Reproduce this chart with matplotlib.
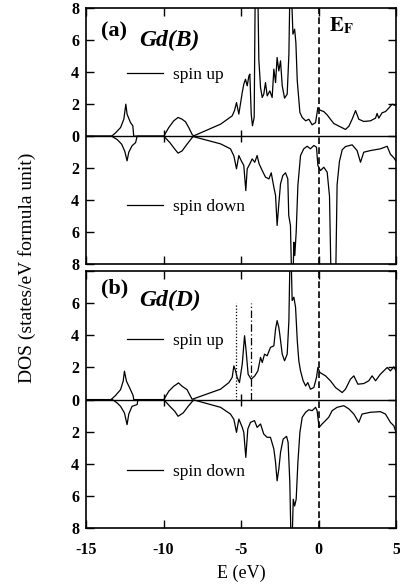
import numpy as np
import matplotlib; matplotlib.use("Agg")
import matplotlib.pyplot as plt

# ---- data: energy (eV), DOS magnitude (states/eV f.u.) ----
# panel (a) Gd(B)
E_up_a = [-15.0, -13.35, -13.1, -12.77, -12.56, -12.43, -12.35, -12.13, -11.98, -11.92,
          -9.98, -9.66, -9.34, -9.06, -8.8, -8.58, -8.37, -8.15, -8.05, -6.32,
          -5.57, -5.42, -5.29, -5.14, -4.92, -4.82, -4.71, -4.6, -4.49, -4.43,
          -4.34, -4.26, -4.15, -4.08, -3.92, -3.85, -3.74, -3.63, -3.53, -3.42,
          -3.31, -3.14, -2.99, -2.88, -2.77, -2.67, -2.56, -2.45, -2.34, -2.19,
          -2.02, -1.91, -1.84, -1.76, -1.65, -1.54, -1.46, -1.37, -1.2, -1.05,
          -0.83, -0.62, -0.41, -0.19, -0.04, 0.09, 0.34, 0.56, 0.77, 0.99,
          1.42, 1.74, 1.96, 2.17, 2.39, 2.6, 2.92, 3.35, 3.68, 3.78,
          3.89, 4.1, 4.32, 4.53, 4.75, 5.0]
D_up_a = [0, 0, 0.2, 0.54, 1.06, 2.0, 1.38, 0.85, 0.65, 0,
          0, 0.54, 0.96, 1.17, 1.06, 0.9, 0.54, 0.1, 0.02, 0.75,
          1.27, 1.6, 2.1, 1.38, 2.73, 3.25, 3.56, 3.15, 3.77, 3.88,
          1.38, 0.65, 1.17, 9.5, 9.5, 4.81, 3.04, 2.42, 2.63, 3.35,
          2.52, 2.83, 2.42, 4.19, 3.35, 4.92, 4.08, 4.71, 3.15, 2.38,
          2.63, 5.13, 9.5, 9.5, 6.38, 6.69, 5.85, 3.46, 1.48, 1.17,
          0.96, 1.06, 0.71, 0.85, 1.79, 1.63, 1.54, 1.33, 1.06, 0.79,
          0.58, 0.42, 0.62, 1.06, 1.6, 1.06, 0.92, 0.96, 1.13, 1.42,
          1.13, 1.46, 1.54, 1.75, 2.0, 1.9]
E_dn_a = [-15.0, -13.35, -13.0, -12.7, -12.5, -12.35, -12.24, -12.03, -11.8, -11.7,
          -9.98, -9.59, -9.27, -9.06, -8.8, -8.48, -8.2, -8.1, -6.32, -5.68,
          -5.46, -5.29, -5.14, -4.99, -4.82, -4.69, -4.6, -4.43, -4.28, -4.11,
          -3.96, -3.83, -3.63, -3.42, -3.2, -3.05, -2.88, -2.77, -2.67, -2.56,
          -2.45, -2.3, -2.13, -1.98, -1.92, -1.81, -1.72, -1.66, -1.59, -1.53,
          -1.44, -1.33, -1.16, -0.95, -0.73, -0.52, -0.3, -0.13, -0.04, 0.13,
          0.34, 0.56, 0.71, 0.82, 1.1, 1.2, 1.35, 1.53, 1.74, 2.17,
          2.49, 2.71, 2.92, 3.35, 3.99, 4.43, 4.64, 4.86, 5.0]
D_dn_a = [0, 0, 0.2, 0.5, 0.94, 1.54, 1.0, 0.6, 0.4, 0,
          0, 0.4, 0.81, 1.06, 0.92, 0.5, 0.15, 0.02, 0.48, 0.79,
          1.23, 2.04, 1.21, 1.52, 1.83, 3.4, 2.04, 1.73, 1.42, 1.63,
          1.21, 1.73, 2.15, 2.56, 2.67, 2.29, 3.19, 3.71, 5.58, 4.23,
          2.98, 2.46, 2.29, 2.67, 4.96, 5.58, 9.5, 9.5, 6.63, 7.46,
          6.0, 3.08, 1.21, 0.79, 0.63, 0.79, 0.58, 0.69, 1.83, 2.15,
          1.94, 2.25, 3.75, 9.5, 9.5, 3.04, 1.58, 0.85, 0.65, 0.54,
          0.9, 1.63, 1.0, 0.9, 0.79, 0.63, 1.13, 1.35, 1.56]

# panel (b) Gd(D)
E_up_b = [-15.0, -13.39, -13.1, -12.77, -12.6, -12.52, -12.39, -12.13, -11.96, -11.92,
          -9.98, -9.66, -9.34, -9.03, -8.8, -8.48, -8.26, -8.15, -6.32, -5.78,
          -5.57, -5.46, -5.35, -5.25, -5.1, -4.92, -4.77, -4.67, -4.54, -4.34,
          -4.11, -3.91, -3.74, -3.63, -3.48, -3.31, -3.1, -2.88, -2.77, -2.67,
          -2.56, -2.5, -2.34, -2.19, -2.02, -1.91, -1.83, -1.78, -1.7, -1.59,
          -1.48, -1.37, -1.27, -1.16, -0.99, -0.83, -0.69, -0.52, -0.3, -0.13,
          -0.04, 0.09, 0.45, 0.77, 1.1, 1.53, 1.74, 2.06, 2.28, 2.54,
          2.92, 3.24, 3.46, 3.68, 3.99, 4.21, 4.43, 4.64, 4.86, 5.0]
D_up_b = [0, 0, 0.25, 0.62, 1.15, 1.77, 1.15, 0.62, 0.25, 0,
          0, 0.52, 0.83, 1.04, 0.83, 0.62, 0.21, 0.02, 0.65, 1.06,
          1.38, 2.1, 1.79, 1.38, 1.06, 2.21, 3.98, 3.04, 1.58, 1.27,
          1.48, 1.79, 2.63, 2.31, 2.83, 2.73, 3.25, 3.35, 4.4, 4.92,
          4.5, 4.08, 2.83, 2.42, 2.83, 4.92, 9.5, 9.5, 6.17, 6.38,
          5.75, 3.67, 2.42, 1.79, 1.17, 0.85, 1.06, 0.65, 0.75, 1.38,
          2.0, 1.69, 1.48, 1.17, 0.75, 0.44, 0.65, 1.27, 1.48, 0.96,
          1.0, 1.17, 1.48, 1.17, 1.58, 1.79, 2.0, 1.79, 2.04, 1.79]
E_dn_b = [-15.0, -13.3, -13.0, -12.77, -12.52, -12.35, -12.24, -12.03, -11.7, -11.65,
          -9.98, -9.59, -9.27, -9.06, -8.73, -8.41, -8.13, -8.05, -6.32, -5.68,
          -5.46, -5.29, -5.14, -4.92, -4.82, -4.69, -4.56, -4.39, -4.13, -3.96,
          -3.74, -3.53, -3.31, -3.1, -2.88, -2.77, -2.67, -2.56, -2.45, -2.28,
          -2.06, -1.96, -1.85, -1.76, -1.72, -1.63, -1.54, -1.44, -1.33, -1.2,
          -1.05, -0.83, -0.62, -0.41, -0.19, -0.09, 0.04, 0.23, 0.45, 0.66,
          0.88, 1.2, 1.63, 1.96, 2.28, 2.6, 2.81, 3.35, 3.99, 4.32,
          4.64, 4.86, 5.0]
D_dn_b = [0, 0, 0.2, 0.42, 0.83, 1.56, 0.9, 0.42, 0.31, 0,
          0, 0.42, 0.73, 1.04, 0.83, 0.42, 0.1, 0.02, 0.48, 0.9,
          1.23, 2.04, 1.21, 1.73, 2.04, 3.6, 1.83, 1.42, 1.31, 1.73,
          1.52, 2.15, 2.35, 2.35, 3.08, 3.92, 5.06, 4.33, 3.29, 2.46,
          2.29, 2.67, 5.17, 9.5, 9.5, 6.21, 6.63, 6.21, 3.92, 2.04,
          1.1, 0.79, 0.63, 0.69, 0.48, 0.69, 1.73, 1.52, 1.31, 1.1,
          0.69, 0.48, 0.38, 0.58, 0.9, 1.42, 0.9, 0.79, 0.75, 0.9,
          1.42, 1.63, 2.04]

# reference energies marked in panel (b)
E_dot, E_dashdot = -5.35, -4.37
xticks = [-15, -10, -5, 0, 5]
yticks = [-8, -6, -4, -2, 0, 2, 4, 6, 8]

plt.rcParams.update({"font.family": "Liberation Serif", "mathtext.fontset": "stix",
                     "axes.unicode_minus": False})
fig = plt.figure(figsize=(4.0, 5.87), dpi=100)
ax_a = fig.add_axes([0.215, 0.550, 0.775, 0.436])
ax_b = fig.add_axes([0.215, 0.1005, 0.775, 0.4375])

def panel(ax, Eu, Du, Ed, Dd, tag, name, ytag, yname, yleg_up, yleg_dn, top_label=True):
    lu, = ax.plot(Eu, Du, color="k", lw=0.9)
    ld, = ax.plot(Ed, -np.array(Dd), color="k", lw=0.9)
    ax.axhline(0, color="k", lw=1.0)
    ax.vlines([-10, -5], -0.37, 0.37, color="k", lw=1.0)
    ax.axvline(0, color="k", lw=1.2, ls=(0, (4, 2)))
    ax.set_xlim(-15, 5); ax.set_ylim(-8, 8)
    ax.set_xticks(xticks); ax.set_yticks(yticks)
    labs = [str(abs(v)) for v in yticks]
    if not top_label: labs[-1] = ""
    ax.set_yticklabels(labs)
    ax.tick_params(direction="in", top=True, right=True, length=6, width=1,
                   labelsize=11.5, pad=5)
    ax.tick_params(axis="x", pad=10)
    for t in ax.get_xticklabels() + ax.get_yticklabels(): t.set_fontweight("bold")
    for s in ax.spines.values(): s.set_linewidth(1.2)
    ax.text(-14.06, ytag, tag, fontsize=16, fontweight="bold", va="center", ha="left")
    ax.text(-11.6, yname, name, fontsize=17, fontweight="bold", style="italic",
            va="center", ha="left")
    kw = dict(frameon=False, loc="center left", handlelength=2.07, handletextpad=0.57,
              borderpad=0, borderaxespad=0, fontsize=12.5)
    l1 = ax.legend([lu], ["spin up"], bbox_to_anchor=(0.132, yleg_up), **kw)
    ax.add_artist(l1)
    ax.legend([ld], ["spin down"], bbox_to_anchor=(0.132, yleg_dn), **kw)

panel(ax_a, E_up_a, D_up_a, E_dn_a, D_dn_a, "(a)", "Gd(B)", 6.56, 5.96, 0.738, 0.2225)
ax_a.tick_params(labelbottom=False)
ax_a.text(0.65, 6.9, r"$\mathbf{E}_\mathbf{F}$", fontsize=15, va="center", ha="left")

panel(ax_b, E_up_b, D_up_b, E_dn_b, D_dn_b, "(b)", "Gd(D)", 6.9, 6.15, 0.728, 0.22,
      top_label=False)
ax_b.vlines(E_dot, 0, 6, color="k", lw=0.9, linestyles=(0, (1, 1.5)))
ax_b.vlines(E_dashdot, 0, 6, color="k", lw=0.9, linestyles=(0, (6, 2, 1, 2)))
ax_b.set_xlabel("E (eV)", fontsize=13, labelpad=5)

fig.text(0.0675, 0.543, "DOS (states/eV formula unit)", rotation=90, fontsize=14,
         ha="center", va="center")
fig.savefig("out.png", dpi=100)
